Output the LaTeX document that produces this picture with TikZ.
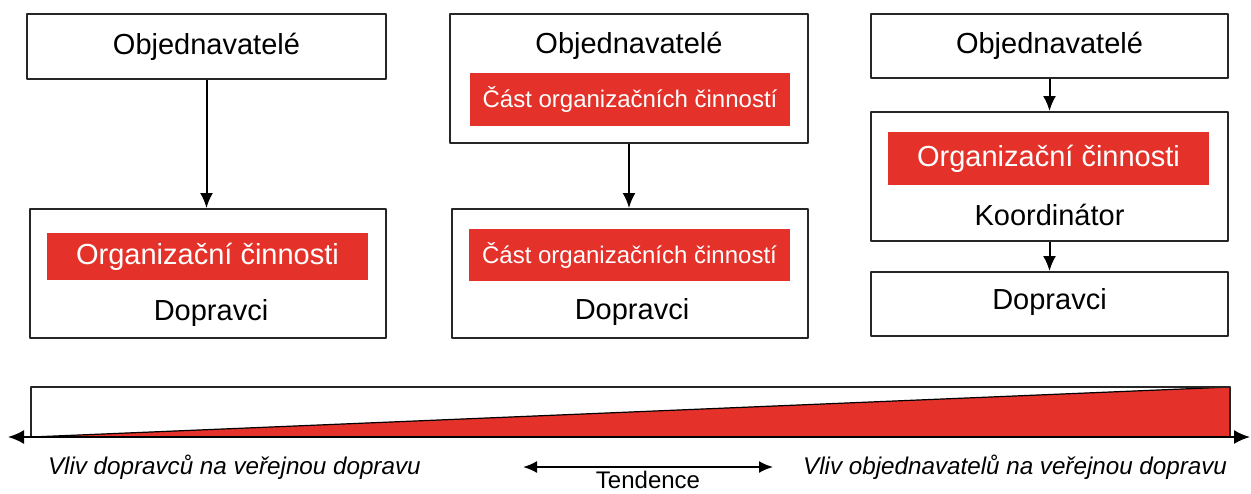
\documentclass[tikz,border=0pt]{standalone}
\usepackage{fontspec}
\setmainfont{Liberation Sans}
\usetikzlibrary{arrows.meta}
\definecolor{cervena}{RGB}{228,50,42}
\begin{document}
\begin{tikzpicture}[x=0.5pt, y=-0.5pt, line width=1pt, line join=round,
  box/.style={draw=black!85, fill=white, inner sep=0pt},
  tag/.style={fill=cervena, text=white, inner sep=0pt},
  big/.style={font=\fontsize{14.5}{17}\selectfont},
  small/.style={font=\fontsize{12}{14}\selectfont},
  sip/.style={-{Latex[length=7.5pt,width=6.5pt]}, line width=1pt}]
  \useasboundingbox (0,0) rectangle (1251,493);
  % Varianta 1
  \node[box, minimum width=179.5pt, minimum height=32.5pt] (obj1) at (206.5,46.5) {};
  \node[big] (obj1t) at (206.5,46.5) {Objednavatelé};
  \node[box, minimum width=178pt, minimum height=64.5pt] (dop1) at (208,273.5) {};
  \node[tag, big, minimum width=160.5pt, minimum height=23.5pt] (org1) at (207.5,256.5) {Organizační činnosti};
  \node[big] (dop1t) at (211,313) {Dopravci};
  \draw[sip] (obj1.south) -- (obj1.south |- dop1.north);
  % Varianta 2
  \node[box, minimum width=179pt, minimum height=64.5pt] (obj2) at (629,78.5) {};
  \node[big] (obj2t) at (629,46) {Objednavatelé};
  \node[tag, small, minimum width=160pt, minimum height=26.5pt] (cast2a) at (630,99.5) {Část organizačních činností};
  \node[box, minimum width=178pt, minimum height=64.5pt] (dop2) at (630,273.5) {};
  \node[tag, small, minimum width=160.5pt, minimum height=26pt] (cast2b) at (629.5,255) {Část organizačních činností};
  \node[big] (dop2t) at (632,312) {Dopravci};
  \draw[sip] (obj2.south) -- (obj2.south |- dop2.north);
  % Varianta 3
  \node[box, minimum width=178.5pt, minimum height=32pt] (obj3) at (1049.5,46) {};
  \node[big] (obj3t) at (1049.5,46) {Objednavatelé};
  \node[box, minimum width=178.5pt, minimum height=64.5pt] (koo3) at (1049.5,176.5) {};
  \node[tag, big, minimum width=160.5pt, minimum height=26.5pt] (org3) at (1048.5,158.5) {Organizační činnosti};
  \node[big] (koo3t) at (1049.5,215) {Koordinátor};
  \node[box, minimum width=178.5pt, minimum height=32pt] (dop3) at (1049.5,304) {};
  \node[big] (dop3t) at (1049.5,302) {Dopravci};
  \draw[sip] (obj3) -- (koo3);
  \draw[sip] (koo3) -- (dop3);
  % Pruh s klinem
  \fill[cervena, draw=black, line width=0.6pt] (31,437) -- (1230,387) -- (1230,437) -- cycle;
  \draw[black!85] (31,387) rectangle (1230,437);
  \coordinate (osaL) at (8,437);
  \coordinate (osaP) at (1250,437);
  \draw[{Latex[length=8pt,width=7pt]}-{Latex[length=8pt,width=7pt]}, line width=1pt] (osaL) -- (osaP);
  % Popisky
  \node[small, font=\fontsize{12.1}{14}\selectfont\itshape, anchor=west, inner sep=0pt] (vlivL) at (47,467) {Vliv dopravců na veřejnou dopravu};
  \node[small, font=\fontsize{12.1}{14}\selectfont\itshape, anchor=east, inner sep=0pt] (vlivP) at (1228,467) {Vliv objednavatelů na veřejnou dopravu};
  \coordinate (tenL) at (523,467);
  \coordinate (tenP) at (773,467);
  \draw[{Latex[length=7pt,width=6pt]}-{Latex[length=7pt,width=6pt]}, line width=1pt] (tenL) -- (tenP);
  \node[small, inner sep=0pt] (ten) at (648,480) {Tendence};
\end{tikzpicture}
\end{document}
